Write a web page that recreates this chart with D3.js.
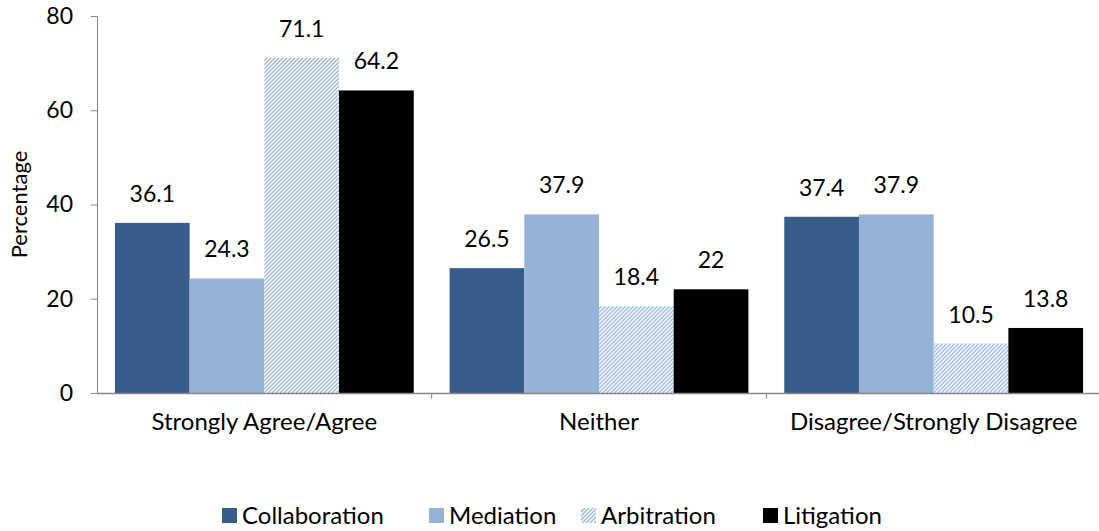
<!DOCTYPE html>
<html lang="en">
<head>
<meta charset="UTF-8">
<title>Percentage by approach</title>
<style>
    body { margin: 0; background: #fff; }
    svg text { font-family: Lato, "Open Sans", sans-serif; fill: #000; }
</style>
<script src="https://d3js.org/d3.v7.min.js"></script>
</head>
<body>
<svg id="chart" width="1099" height="531"></svg>
<script>
    // data
    var categories = ["Strongly Agree/Agree", "Neither", "Disagree/Strongly Disagree"];
    var seriesNames = ["Collaboration", "Mediation", "Arbitration", "Litigation"];
    var collaboration = [36.1, 26.5, 37.4];
    var mediation = [24.3, 37.9, 37.9];
    var arbitration = [71.1, 18.4, 10.5];
    var litigation = [64.2, 22, 13.8];
    var yTicks = [0, 20, 40, 60, 80];

    var seriesValues = [collaboration, mediation, arbitration, litigation];
    var fills = ["#385d8a", "#95b3d7", "url(#dots)", "#000000"];

    var svg = d3.select("#chart");
    var mLeft = 97, mRight = 1101, mTop = 16, mBottom = 393;

    // dotted diagonal pattern for Arbitration
    var defs = svg.append("defs");
    var pat = defs.append("pattern")
        .attr("id", "dots")
        .attr("patternUnits", "userSpaceOnUse")
        .attr("width", 4).attr("height", 4);
    pat.append("rect").attr("width", 4).attr("height", 4).attr("fill", "#ffffff");
    pat.append("path")
        .attr("d", "M0,4 L4,0 M-1,1 L1,-1 M3,5 L5,3")
        .attr("stroke", "#9bb7e0").attr("stroke-width", 1.4);

    var x0 = d3.scaleBand().domain(categories).range([mLeft, mRight]).paddingInner(0).paddingOuter(0);
    var x1 = d3.scaleBand().domain(seriesNames).range([0, x0.bandwidth()]).paddingInner(0).paddingOuter(0.24);
    var y = d3.scaleLinear().domain([0, 80]).range([mBottom, mTop]);

    // bars
    var groups = svg.selectAll(".group")
        .data(categories)
        .enter().append("g")
        .attr("class", "group")
        .attr("transform", function (d) { return "translate(" + x0(d) + ",0)"; });

    groups.each(function (cat, ci) {
        var g = d3.select(this);
        seriesNames.forEach(function (s, si) {
            var v = seriesValues[si][ci];
            g.append("rect")
                .attr("x", x1(s))
                .attr("y", y(v))
                .attr("width", x1.bandwidth())
                .attr("height", y(0) - y(v))
                .attr("fill", fills[si]);
            g.append("text")
                .attr("x", x1(s) + x1.bandwidth() / 2)
                .attr("y", y(v) - 21)
                .attr("text-anchor", "middle")
                .style("font-size", "23px")
                .text(v);
        });
    });

    // y axis
    var yAxis = svg.append("g")
        .attr("transform", "translate(" + mLeft + ",0)")
        .call(d3.axisLeft(y).tickValues(yTicks).tickSize(6).tickPadding(18));
    yAxis.select(".domain").attr("stroke", "#868686");
    yAxis.selectAll(".tick line").attr("stroke", "#868686");
    yAxis.selectAll(".tick text").style("font-size", "23px").attr("fill", "#000");

    // x axis
    var xAxis = svg.append("g")
        .attr("transform", "translate(0," + mBottom + ")")
        .call(d3.axisBottom(x0).tickSize(0).tickPadding(20));
    xAxis.select(".domain").attr("stroke", "#868686").attr("stroke-width", 1.5);
    xAxis.selectAll(".tick text").style("font-size", "24px").attr("fill", "#000");
    // tick marks at category boundaries
    xAxis.selectAll(".sep")
        .data(categories.slice(1))
        .enter().append("line")
        .attr("x1", function (d) { return x0(d); })
        .attr("x2", function (d) { return x0(d); })
        .attr("y1", 0).attr("y2", 6)
        .attr("stroke", "#868686");

    // y label
    svg.append("text")
        .attr("transform", "translate(27," + ((mTop + mBottom) / 2) + ") rotate(-90)")
        .attr("text-anchor", "middle")
        .style("font-size", "22px")
        .text("Percentage");

    // legend
    var legendX = [222, 429, 581, 763];
    var legend = svg.selectAll(".legend")
        .data(seriesNames)
        .enter().append("g")
        .attr("transform", function (d, i) { return "translate(" + legendX[i] + ",508)"; });
    legend.append("rect")
        .attr("width", 15).attr("height", 15)
        .attr("fill", function (d, i) { return fills[i]; });
    legend.append("text")
        .attr("x", 20).attr("y", 16)
        .style("font-size", "24px")
        .text(function (d) { return d; });
</script>
</body>
</html>
